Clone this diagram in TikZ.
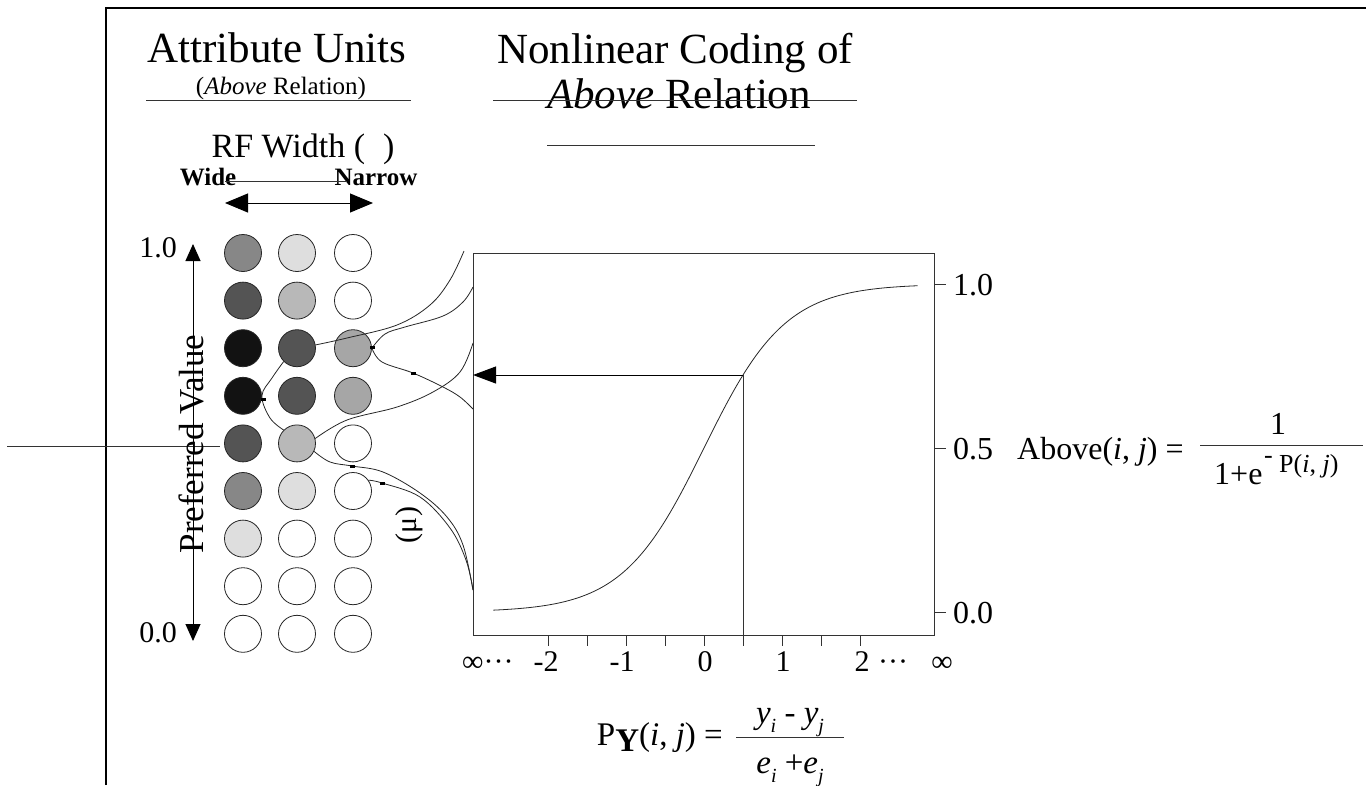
\documentclass[tikz,border=0pt]{standalone}
\usepackage{fontspec}
\setmainfont{Liberation Serif}
\usetikzlibrary{arrows.meta}
\definecolor{gA}{gray}{0.53}
\definecolor{gB}{gray}{0.87}
\definecolor{gC}{gray}{0.33}
\definecolor{gD}{gray}{0.72}
\definecolor{gE}{gray}{0.07}
\definecolor{gF}{gray}{0.65}
\newcommand{\myfs}[1]{\fontsize{#1}{#1}\selectfont}
\newcommand{\mysub}[1]{\raisebox{-0.3em}{\myfs{20}\textit{#1}}}
\tikzset{
  lab/.style={inner sep=0pt, anchor=base},
  unit/.style={circle, draw=black!85, line width=0.8pt, minimum size=37pt, inner sep=0pt},
  wire/.style={line width=0.8pt, black!85},
  thinline/.style={line width=0.8pt, black!80},
  dot/.style={fill=black, inner sep=0pt, minimum width=5pt, minimum height=3pt, draw=none}
}
\begin{document}
\begin{tikzpicture}[x=1pt,y=-1pt]
\useasboundingbox (0,0) rectangle (1366,785);
% frame
\draw[line width=2.5pt] (106,785) -- (106,8) -- (1366,8);
\draw[thinline] (7,446) -- (220,446);
% titles
\node[lab, font=\myfs{43}] (t1) at (277,62) {Attribute Units};
\node[lab, font=\myfs{25}] (t2) at (281,94) {(\textit{Above} Relation)};
\draw[thinline] (146,100) -- (411,100);
\node[lab, font=\myfs{43}] (t3) at (675,63) {Nonlinear Coding of};
\node[lab, font=\myfs{43}] (t4) at (679,108) {\textit{Above} Relation};
\draw[thinline] (493,100) -- (857,100);
\draw[thinline] (547,145) -- (815,145);
\node[lab, font=\myfs{34}] (rf) at (303,157) {RF Width (\hspace{18pt})};
\node[lab, font=\myfs{25}\bfseries] (wide) at (208,185) {Wide};
\node[lab, font=\myfs{25}\bfseries] (narrow) at (376,185) {Narrow};
\coordinate (wl) at (225,181);
\coordinate (wr) at (347,181);
\draw[thinline] (wl) -- (wr);
\coordinate (al) at (225,203);
\coordinate (ar) at (373,203);
\draw[line width=1pt, {Triangle[length=23pt,width=19pt]}-{Triangle[length=23pt,width=19pt]}] (al) -- (ar);
% preferred value axis
\coordinate (pvt) at (193,244);
\coordinate (pvb) at (193,641);
\draw[line width=1pt, {Triangle[length=17pt,width=15pt]}-{Triangle[length=17pt,width=15pt]}] (pvb) -- (pvt);
\node[lab, font=\myfs{30}] (one) at (158,257) {1.0};
\node[lab, font=\myfs{30}] (zero) at (158,642) {0.0};
\node[inner sep=0pt, anchor=base, rotate=90, font=\myfs{35}] (pv) at (203,444) {Preferred Value};
% units
\foreach \r/\a/\b/\c in {1/gA/gB/white, 2/gC/gD/white, 3/gE/gC/gF, 4/gE/gC/gF, 5/gC/gD/white, 6/gA/gB/white, 7/gB/white/white, 8/white/white/white, 9/white/white/white} {
  \pgfmathsetmacro\yy{253+47.6*(\r-1)}
  \node[unit, fill=\a] (c\r1) at (243,\yy) {};
  \node[unit, fill=\b] (c\r2) at (297,\yy) {};
  \node[unit, fill=\c] (c\r3) at (353,\yy) {};
}
% plot
\draw[thinline] (473,253) rectangle (934,635);
\coordinate (A) at (464,251);
\coordinate (B) at (473,287);
\coordinate (C) at (473,409);
\coordinate (E) at (473,343);
\coordinate (F) at (473,590);
\draw[wire] plot[smooth, tension=0.6] coordinates {(c32.10) (347,338) (397,325) (430,305) (450,280) (A)};
\draw[wire] plot[smooth, tension=0.6] coordinates {(c33.east) (385,334) (405,327) (443,316) (463,302) (B)};
\draw[wire] plot[smooth, tension=0.6] coordinates {(c33.east) (382,362) (413,373) (443,387) (460,397) (C)};
\draw[wire] plot[smooth, tension=0.6] coordinates {(c32.225) (272,378) (c41.east) (270,418) (c52.135)};
\draw[wire] plot[smooth, tension=0.6] coordinates {(c52.15) (347,420) (397,407) (433,392) (460,372) (E)};
\draw[wire] plot[smooth, tension=0.6] coordinates {(c52.-25) (330,462) (352,466) (383,472) (420,493) (447,517) (463,545) (F)};
\draw[wire] plot[smooth, tension=0.6] coordinates {(c63.35) (382,483) (420,497) (450,528) (466,560) (F)};
\node[dot] at (372,347) {};
\node[dot] at (413,373) {};
\node[dot] at (263,399) {};
\node[dot] at (352,466) {};
\node[dot] at (382,483) {};
% sigmoid
\draw[wire] plot[domain=-2.7:2.74, samples=90, smooth] ({704+78*\x}, {612-328/(1+exp(-1.915*\x))});
\coordinate (drop) at (743,375);
\coordinate (dropb) at (743,646);
\coordinate (tip) at (473,375);
\draw[thinline] (drop) -- (dropb);
\draw[line width=1pt, -{Triangle[length=23pt,width=17pt]}] (drop) -- (tip);
\foreach \u in {-2,-1.5,...,2} \draw[thinline] ({704+78*\u},635) -- ++(0,11);
\foreach \yv in {284,448,612} \draw[thinline] (934,\yv) -- (946,\yv);
\node[lab, font=\myfs{32}, anchor=base west] (y1) at (953,295) {1.0};
\node[lab, font=\myfs{32}, anchor=base west] (y5) at (953,459) {0.5};
\node[lab, font=\myfs{32}, anchor=base west] (y0) at (953,623) {0.0};
\node[inner sep=0pt, rotate=90, font=\myfs{30}] (mu) at (409,525) {(μ)};
% x labels
\node[lab, font=\myfs{30}, anchor=base west] (xl) at (462,671) {∞···};
\node[lab, font=\myfs{30}] at (546,671) {-2};
\node[lab, font=\myfs{30}] at (622,671) {-1};
\node[lab, font=\myfs{30}] at (705,671) {0};
\node[lab, font=\myfs{30}] at (783,671) {1};
\node[lab, font=\myfs{30}] at (862,671) {2};
\node[lab, font=\myfs{30}] at (893,671) {···};
\node[lab, font=\myfs{30}] (xr) at (942,671) {∞};
% bottom formula
\node[lab, font=\myfs{33}, anchor=base east] (py) at (723,745) {P\raisebox{-6pt}{\textbf{Y}}(\textit{i}, \textit{j}) =};
\draw[thinline] (736,737) -- (844,737);
\node[lab, font=\myfs{33}] (pnum) at (790,723) {\textit{y}\mysub{i} - \textit{y}\mysub{j}};
\node[lab, font=\myfs{33}] (pden) at (790,773) {\textit{e}\mysub{i} +\textit{e}\mysub{j}};
% above formula
\node[lab, font=\myfs{32}, anchor=base west] (ab) at (1017,459) {Above(\textit{i}, \textit{j}) =};
\draw[thinline] (1200,445) -- (1363,445);
\node[lab, font=\myfs{32}] (anum) at (1278,434) {1};
\node[lab, font=\myfs{32}, anchor=base west] (aden) at (1214,484) {1+e};
\node[lab, font=\myfs{26}, anchor=base west] (amin) at (1264,463) {-};
\node[lab, font=\myfs{26}, anchor=base west] (ap) at (1279,472) {P(\textit{i}, \textit{j})};
\end{tikzpicture}
\end{document}
